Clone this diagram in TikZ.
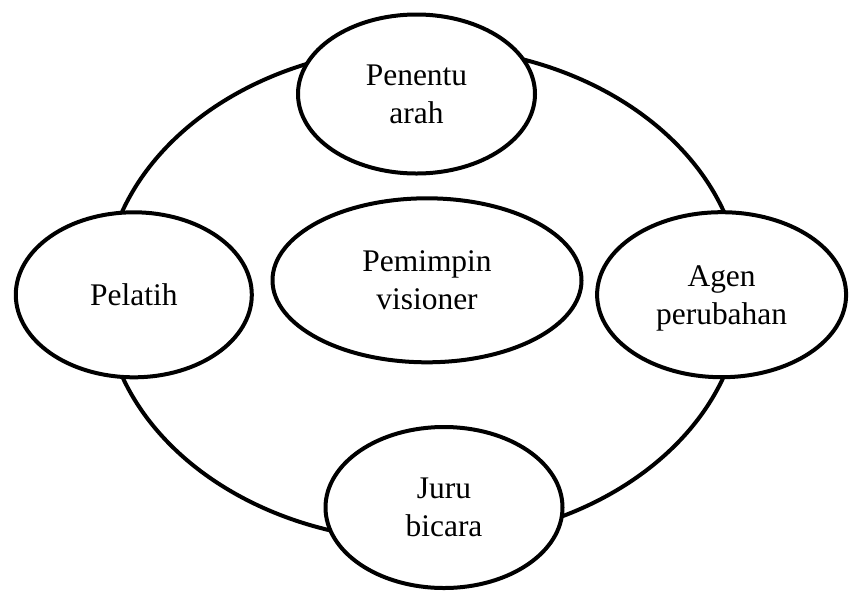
\documentclass[tikz,border=0pt]{standalone}
\usepackage{fontspec}
\setmainfont{Liberation Serif}
\usetikzlibrary{shapes.geometric}

\tikzset{
  ring/.style={draw=black, line width=3pt},
  role/.style={ellipse, draw=black, line width=3pt, fill=white, inner sep=0pt, outer sep=0pt},
  rolelabel/.style={align=center, inner sep=0pt, font=\fontsize{23.6}{28.5}\selectfont},
}

\begin{document}
\begin{tikzpicture}[x=0.75pt, y=-0.75pt]
  \useasboundingbox (0,0) rectangle (849,590);

  % outer ring joining the roles
  \draw[ring] (423,294) ellipse [x radius=319, y radius=247];

  % roles placed on and inside the ring (sizes in pt)
  \node[role, minimum width=177.75pt, minimum height=119.25pt] (arah)  at (416.5,94)    {};
  \node[role, minimum width=177pt,    minimum height=123.75pt] (latih) at (133.8,294.8) {};
  \node[role, minimum width=231.75pt, minimum height=123pt]    (visi)  at (427,280.3)   {};
  \node[role, minimum width=186.75pt, minimum height=123.75pt] (agen)  at (721.6,294.7) {};
  \node[role, minimum width=177.75pt, minimum height=120.75pt] (juru)  at (444,507.5)   {};

  \node[rolelabel] (arahT)  at (arah)  {Penentu\\arah};
  \node[rolelabel] (latihT) at (latih) {Pelatih};
  \node[rolelabel] (visiT)  at (visi)  {Pemimpin\\visioner};
  \node[rolelabel, yshift=-3pt] (agenT) at (agen) {Agen\\perubahan};
  \node[rolelabel] (juruT)  at (juru)  {Juru\\bicara};
\end{tikzpicture}
\end{document}
